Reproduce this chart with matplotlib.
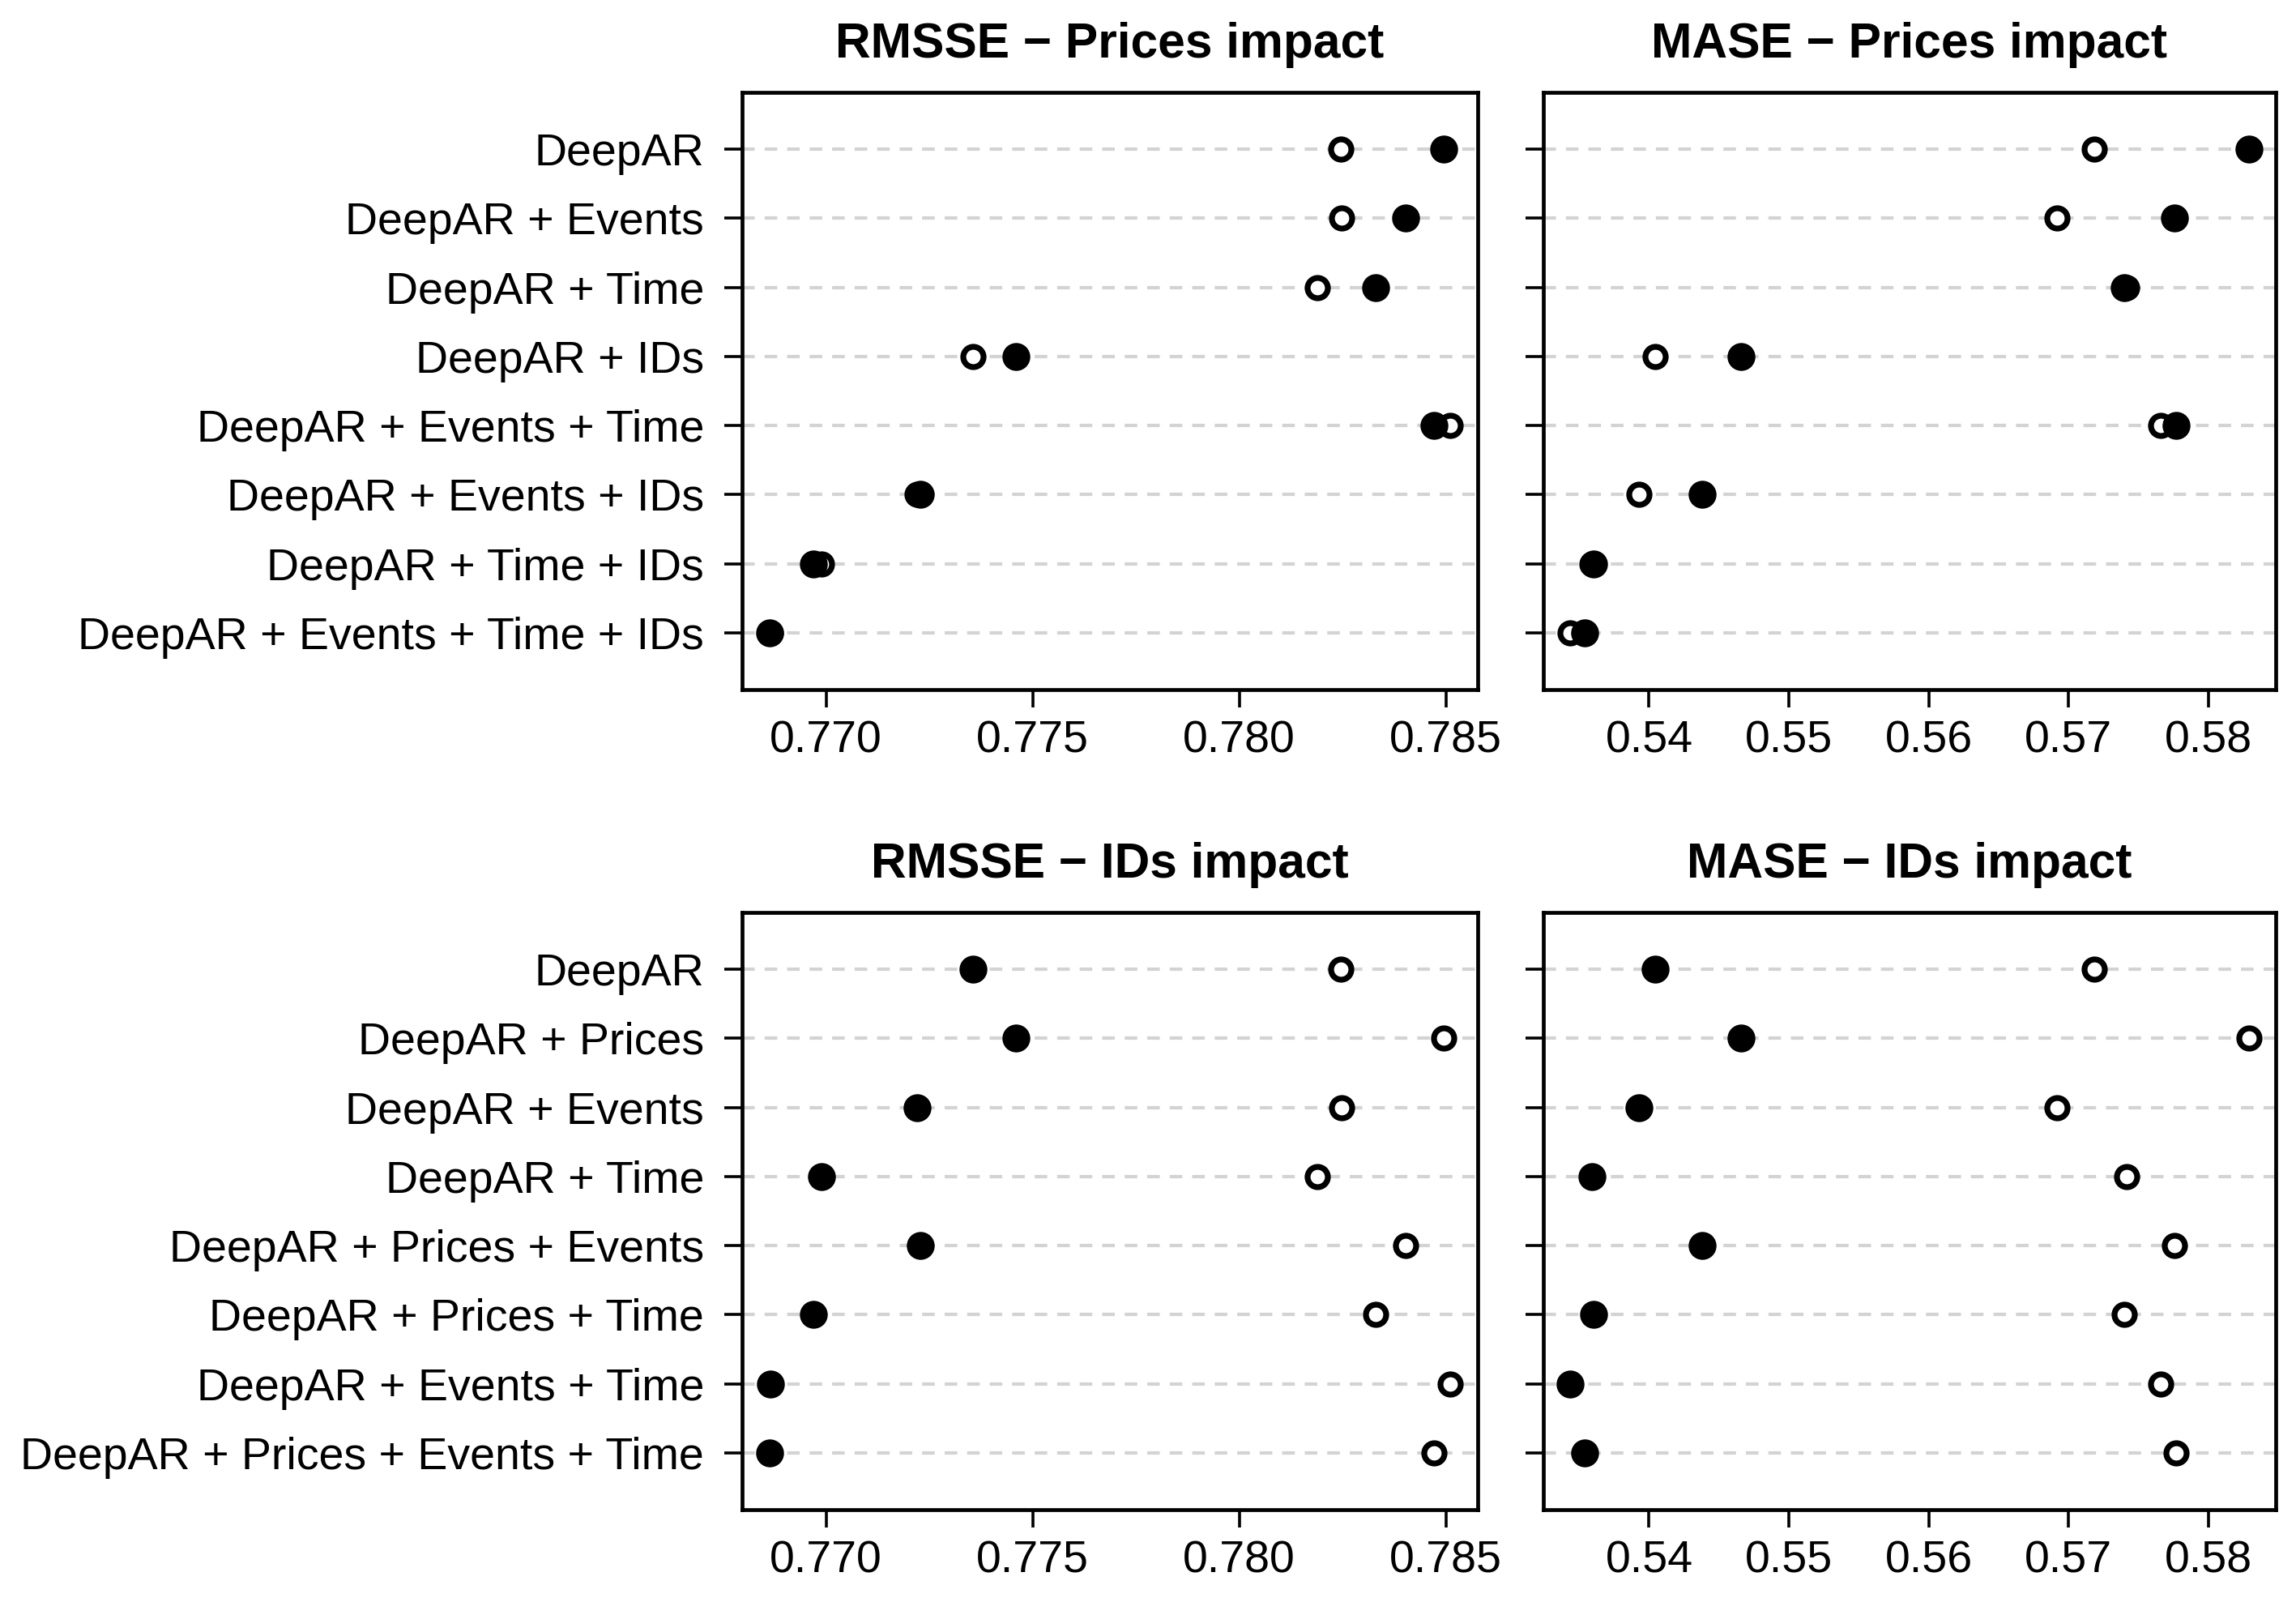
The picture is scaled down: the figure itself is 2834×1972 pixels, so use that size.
import matplotlib
matplotlib.use("Agg")
import matplotlib.pyplot as plt
import numpy as np
from matplotlib import rcParams

rcParams["font.family"] = ["Liberation Sans", "DejaVu Sans"]
rcParams["lines.scale_dashes"] = False

GRID_GRAY = "#D3D3D3"

# Prices impact (open = without prices, filled = with prices)
prices_labels = [
    "DeepAR",
    "DeepAR + Events",
    "DeepAR + Time",
    "DeepAR + IDs",
    "DeepAR + Events + Time",
    "DeepAR + Events + IDs",
    "DeepAR + Time + IDs",
    "DeepAR + Events + Time + IDs",
]
rmsse_no_prices = [0.78245, 0.78247, 0.78189, 0.77356, 0.78511, 0.77221, 0.76989, 0.76866]
rmsse_prices = [0.78494, 0.78403, 0.78329, 0.77460, 0.78472, 0.77229, 0.76970, 0.76863]
mase_no_prices = [0.57182, 0.56918, 0.57417, 0.54042, 0.57659, 0.53930, 0.53589, 0.53438]
mase_prices = [0.58288, 0.57758, 0.57400, 0.54660, 0.57771, 0.54379, 0.53603, 0.53540]

# IDs impact (open = without IDs, filled = with IDs)
ids_labels = [
    "DeepAR",
    "DeepAR + Prices",
    "DeepAR + Events",
    "DeepAR + Time",
    "DeepAR + Prices + Events",
    "DeepAR + Prices + Time",
    "DeepAR + Events + Time",
    "DeepAR + Prices + Events + Time",
]
rmsse_no_ids = [0.78245, 0.78494, 0.78247, 0.78189, 0.78403, 0.78329, 0.78511, 0.78472]
rmsse_ids = [0.77356, 0.77460, 0.77221, 0.76989, 0.77229, 0.76970, 0.76866, 0.76863]
mase_no_ids = [0.57182, 0.58288, 0.56918, 0.57417, 0.57758, 0.57400, 0.57659, 0.57771]
mase_ids = [0.54042, 0.54660, 0.53930, 0.53589, 0.54379, 0.53603, 0.53438, 0.53540]

rmsse_ticks = [0.770, 0.775, 0.780, 0.785]
mase_ticks = [0.54, 0.55, 0.56, 0.57, 0.58]

W, H = 2834, 1972
DPI = 200


def px_rect(left, top, right, bottom):
    return [left / W, 1 - bottom / H, (right - left) / W, (bottom - top) / H]


def padded_range(*series):
    vals = np.concatenate([np.asarray(s) for s in series])
    lo, hi = vals.min(), vals.max()
    ext = 0.04 * (hi - lo)
    return lo - ext, hi + ext


def dotpanel(ax, labels, open_vals, filled_vals, xlim, ticks, fmt, title, show_labels):
    n = len(labels)
    y = np.arange(n, 0, -1)
    for yy in y:
        ax.axhline(yy, color=GRID_GRAY, linewidth=1.5, linestyle=(0, (5.6, 4.4)), zorder=1)
    ax.plot(
        open_vals, y, linestyle="none", marker="o", markersize=9.0,
        markerfacecolor="white", markeredgecolor="black", markeredgewidth=2.6, zorder=3,
    )
    ax.plot(
        filled_vals, y, linestyle="none", marker="o", markersize=12.4,
        markerfacecolor="black", markeredgecolor="black", markeredgewidth=0, zorder=4,
    )
    ax.set_xlim(*xlim)
    ax.set_ylim(0.18, n + 0.82)
    ax.set_xticks(ticks)
    ax.set_xticklabels([fmt.format(t) for t in ticks])
    ax.set_yticks(y)
    if show_labels:
        ax.set_yticklabels(labels)
    else:
        ax.set_yticklabels([])
    ax.tick_params(axis="both", length=7.9, width=1.3, labelsize=20.0, direction="out")
    ax.tick_params(axis="y", pad=9.0)
    ax.tick_params(axis="x", pad=5.5)
    for sp in ax.spines.values():
        sp.set_linewidth(1.7)
    ax.set_title(title, fontsize=21.8, fontweight="bold", pad=15.5)


fig = plt.figure(figsize=(W / DPI, H / DPI), dpi=DPI)

rmsse_lim = padded_range(rmsse_no_prices, rmsse_prices)
mase_lim = padded_range(mase_no_prices, mase_prices)

ax1 = fig.add_axes(px_rect(916, 114, 1824, 851))
dotpanel(ax1, prices_labels, rmsse_no_prices, rmsse_prices, rmsse_lim, rmsse_ticks,
         "{:.3f}", "RMSSE \u2212 Prices impact", True)

ax2 = fig.add_axes(px_rect(1905, 114, 2809, 851))
dotpanel(ax2, prices_labels, mase_no_prices, mase_prices, mase_lim, mase_ticks,
         "{:.2f}", "MASE \u2212 Prices impact", False)

ax3 = fig.add_axes(px_rect(916, 1126, 1824, 1863))
dotpanel(ax3, ids_labels, rmsse_no_ids, rmsse_ids, rmsse_lim, rmsse_ticks,
         "{:.3f}", "RMSSE \u2212 IDs impact", True)

ax4 = fig.add_axes(px_rect(1905, 1126, 2809, 1863))
dotpanel(ax4, ids_labels, mase_no_ids, mase_ids, mase_lim, mase_ticks,
         "{:.2f}", "MASE \u2212 IDs impact", False)

fig.savefig("out.png", dpi=DPI, facecolor="white")
